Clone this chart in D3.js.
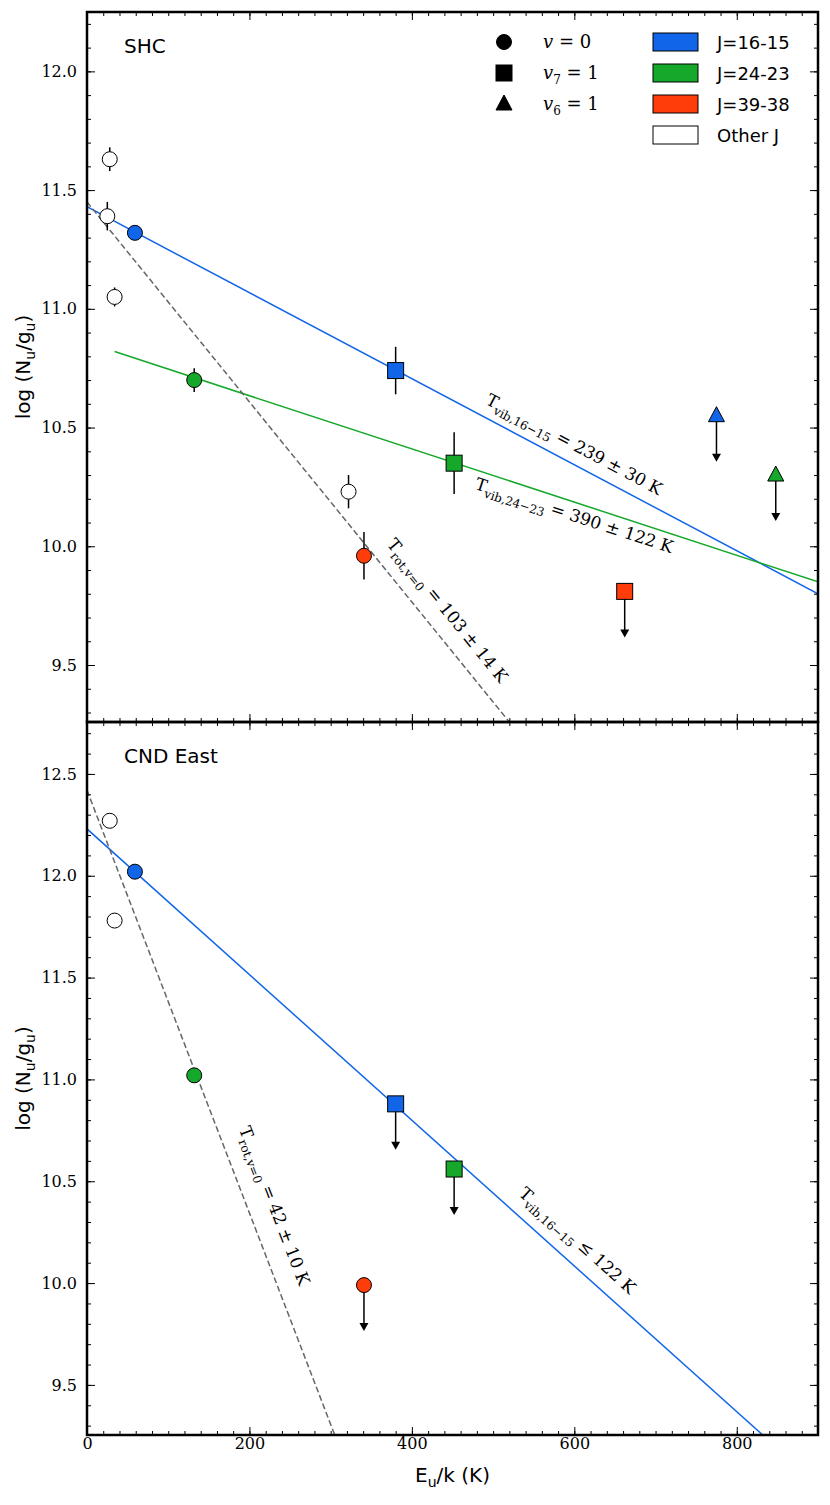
<!DOCTYPE html><html><head><meta charset="utf-8"><script src="https://cdn.jsdelivr.net/npm/d3@7"></script>
<style>body{margin:0;background:#fff}svg{font-family:"DejaVu Sans",sans-serif}</style></head><body>
<svg id="c" width="830" height="1505"></svg>
<script>
const colors={J16:"#1165e8",J24:"#15a82b",J39:"#ff3d0a",other:"#ffffff"};
const topE=[28,25,34,322,59,380,775,132,452,848,341,662];
const topN=[11.63,11.39,11.05,10.23,11.32,10.74,10.55,10.70,10.35,10.30,9.96,9.81];
const topErr=[0.05,0.06,0.04,0.07,0.02,0.1,0,0.05,0.13,0,0.1,0];
const topGroup=["other","other","other","other","J16","J16","J16","J24","J24","J24","J39","J39"];
const topShape=["c","c","c","c","c","s","t","c","s","t","c","s"];
const topUL=[0,0,0,0,0,0,1,0,0,1,0,1];
const botE=[28,34,59,380,132,452,341];
const botN=[12.27,11.78,12.02,10.88,11.02,10.56,9.99];
const botErr=[0,0,0.02,0,0.03,0,0];
const botGroup=["other","other","J16","J16","J24","J24","J39"];
const botShape=["c","c","c","s","c","s","c"];
const botUL=[0,0,0,1,0,1,1];
const xTicks=[0,200,400,600,800];
const topYTicks=[9.5,10,10.5,11,11.5,12];
const botYTicks=[9.5,10,10.5,11,11.5,12,12.5];

const svg=d3.select("#c");
const L=87,R=818;
const x=d3.scaleLinear().domain([0,900]).range([L,R]);
function panel(y0,y1,dom,ticks,E,N,Err,G,S,UL,lines,labels,title){
  const y=d3.scaleLinear().domain(dom).range([y1,y0]);
  const g=svg.append("g");
  g.append("defs").append("clipPath").attr("id","cp"+y0).append("rect").attr("x",L).attr("y",y0).attr("width",R-L).attr("height",y1-y0);
  const cl=g.append("g").attr("clip-path",`url(#cp${y0})`);
  lines.forEach(l=>{cl.append("line").attr("x1",x(l[0])).attr("y1",y(l[1])).attr("x2",x(l[2])).attr("y2",y(l[3]))
    .attr("stroke",l[4]).attr("stroke-width",1.5).attr("stroke-dasharray",l[5]?"6,3":null);});
  labels.forEach(t=>{const a=Math.atan2(y(t[4])-y(t[2]),x(t[3])-x(t[1]))*180/Math.PI;
    g.append("text").attr("transform",`translate(${x(t[5])},${y(t[6])}) rotate(${a})`).attr("text-anchor","middle").attr("dy","0.35em")
     .attr("font-family","DejaVu Serif").attr("font-size",17).html(t[0]);});
  E.forEach((e,i)=>{
    const px=x(e),py=y(N[i]);
    if(Err[i]>0) cl.append("line").attr("x1",px).attr("x2",px).attr("y1",y(N[i]-Err[i])).attr("y2",y(N[i]+Err[i])).attr("stroke","#000").attr("stroke-width",1.5);
    if(UL[i]){cl.append("line").attr("x1",px).attr("x2",px).attr("y1",py).attr("y2",py+40).attr("stroke","#000").attr("stroke-width",1.5);
      cl.append("path").attr("d",`M${px-4.5},${py+38}L${px+4.5},${py+38}L${px},${py+46}Z`).attr("fill","#000");}
    mark(cl,S[i],px,py,colors[G[i]]);
  });
  g.append("g").attr("transform",`translate(0,${y1})`).call(d3.axisBottom(x).tickValues(xTicks).tickSize(-8).tickFormat(y1>1000?d3.format("d"):""));
  g.append("g").attr("transform",`translate(0,${y1})`).call(d3.axisBottom(x).ticks(45).tickSize(-4).tickFormat(""));
  g.append("g").attr("transform",`translate(0,${y0})`).call(d3.axisTop(x).tickValues(xTicks).tickSize(-8).tickFormat(""));
  g.append("g").attr("transform",`translate(0,${y0})`).call(d3.axisTop(x).ticks(45).tickSize(-4).tickFormat(""));
  g.append("g").attr("transform",`translate(${L},0)`).call(d3.axisLeft(y).tickValues(ticks).tickSize(-8).tickFormat(d3.format(".1f")).tickPadding(10));
  const minor=d3.range(Math.ceil(dom[0]*10)/10,dom[1],0.1);
  g.append("g").attr("transform",`translate(${L},0)`).call(d3.axisLeft(y).tickValues(minor).tickSize(-4).tickFormat(""));
  g.append("g").attr("transform",`translate(${R},0)`).call(d3.axisRight(y).tickValues(ticks).tickSize(-8).tickFormat(""));
  g.append("g").attr("transform",`translate(${R},0)`).call(d3.axisRight(y).tickValues(minor).tickSize(-4).tickFormat(""));
  g.selectAll(".domain").remove();
  g.selectAll(".tick line").attr("stroke","#000");
  g.selectAll(".tick text").attr("font-size",16).attr("fill","#000").attr("font-family","DejaVu Serif");
  g.append("rect").attr("x",L).attr("y",y0).attr("width",R-L).attr("height",y1-y0).attr("fill","none").attr("stroke","#000").attr("stroke-width",2.5);
  g.append("text").attr("x",124).attr("y",y0+41).attr("font-size",20).text(title);
  g.append("text").attr("transform",`translate(30,${(y0+y1)/2}) rotate(-90)`).attr("text-anchor","middle").attr("font-size",20)
   .html('log (N<tspan font-size="14" dy="5">u</tspan><tspan dy="-5">/g</tspan><tspan font-size="14" dy="5">u</tspan><tspan dy="-5">)</tspan>');
  return g;
}
function mark(g,s,px,py,fill){
  if(s==="c") g.append("circle").attr("cx",px).attr("cy",py).attr("r",7.5).attr("fill",fill).attr("stroke","#000").attr("stroke-width",1);
  else if(s==="s") g.append("rect").attr("x",px-8).attr("y",py-8).attr("width",16).attr("height",16).attr("fill",fill).attr("stroke","#000");
  else g.append("path").attr("d",`M${px},${py-9}L${px+8},${py+6}L${px-8},${py+6}Z`).attr("fill",fill).attr("stroke","#000");
}
const sub=(a)=>`<tspan font-size="12" dy="5">${a}</tspan><tspan dy="-5">`;
panel(12,722,[9.26,12.25],topYTicks,topE,topN,topErr,topGroup,topShape,topUL,
 [[0,11.43,900,9.80,colors.J16,0],[34,10.82,900,9.85,colors.J24,0],[0,11.45,520,9.26,"#666",1]],
 [["T"+sub("vib,16−15")+" = 239 ± 30 K</tspan>",0,11.43,900,9.80,600,10.43],
  ["T"+sub("vib,24−23")+" = 390 ± 122 K</tspan>",34,10.82,900,9.85,600,10.13],
  ["T"+sub("rot,v=0")+" = 103 ± 14 K</tspan>",0,11.45,520,9.26,444,9.73]],"SHC");
panel(722,1435,[9.254,12.755],botYTicks,botE,botN,botErr,botGroup,botShape,botUL,
 [[0,12.23,832,9.254,colors.J16,0],[0,12.42,305,9.254,"#666",1]],
 [["T"+sub("vib,16−15")+" ≤ 122 K</tspan>",0,12.23,832,9.254,604,10.21],
  ["T"+sub("rot,v=0")+" = 42 ± 10 K</tspan>",0,12.42,305,9.254,231,10.38]],"CND East");
svg.append("text").attr("x",(L+R)/2).attr("y",1482).attr("text-anchor","middle").attr("font-size",20)
 .html('E<tspan font-size="14" dy="5">u</tspan><tspan dy="-5">/k (K)</tspan>');
const lg=svg.append("g");
const shapesL=[["c",""],["s","7"],["t","6"]];
shapesL.forEach((d,i)=>{const yy=42+i*31;mark(lg,d[0],504,yy,"#000");
 lg.append("text").attr("x",543).attr("y",yy+6).attr("font-family","DejaVu Serif").attr("font-size",18)
 .html(d[1]?`<tspan font-style="italic">v</tspan><tspan font-size="12" dy="5">${d[1]}</tspan><tspan dy="-5"> = 1</tspan>`:'<tspan font-style="italic">v</tspan> = 0');});
const legC=[["J16","J=16-15"],["J24","J=24-23"],["J39","J=39-38"],["other","Other J"]];
legC.forEach((d,i)=>{const yy=42+i*31;lg.append("rect").attr("x",653).attr("y",yy-9).attr("width",45).attr("height",18).attr("fill",colors[d[0]]).attr("stroke","#000");
 lg.append("text").attr("x",717).attr("y",yy+7).attr("font-size",18).text(d[1]);});
</script></body></html>
